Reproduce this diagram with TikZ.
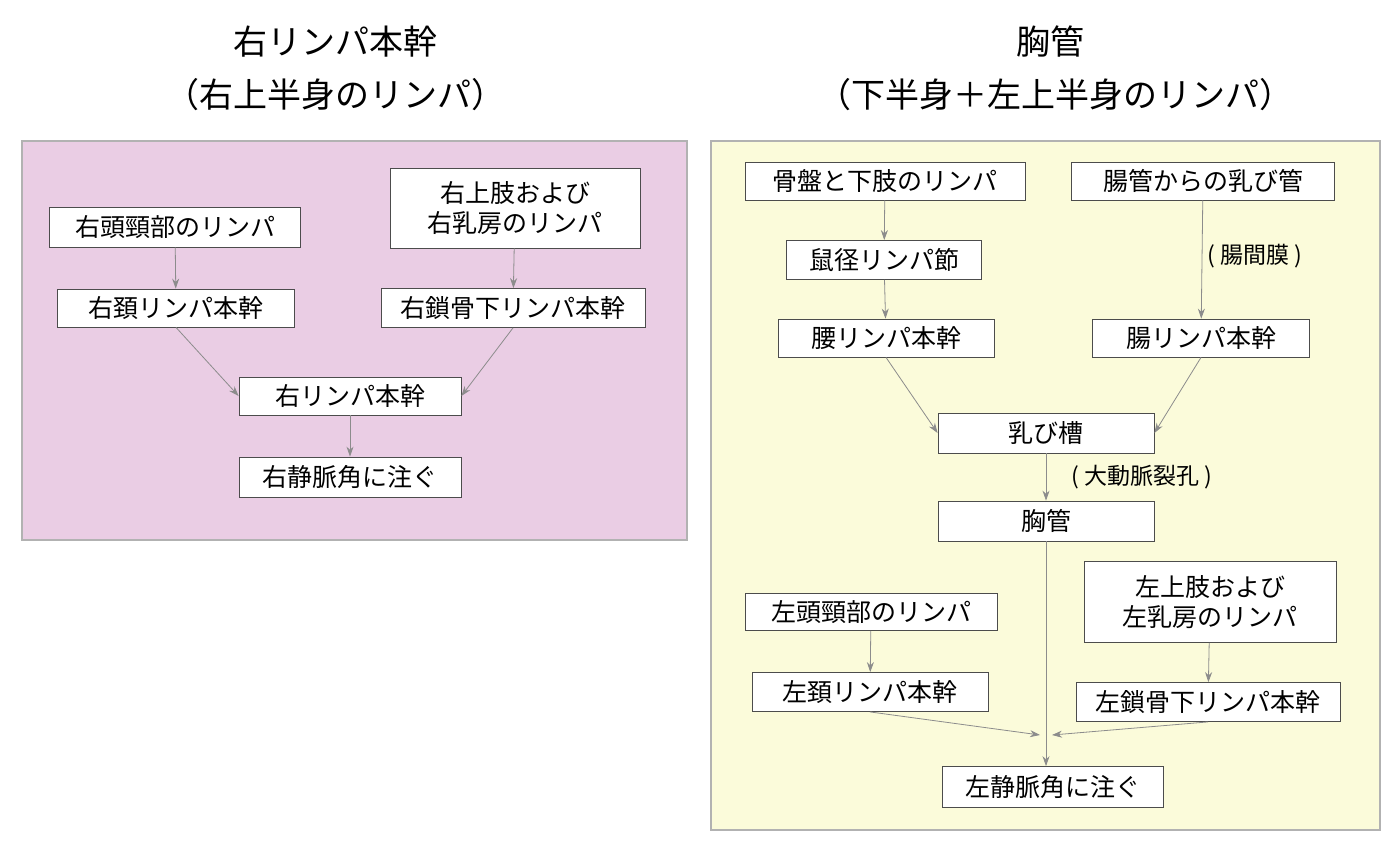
\documentclass[tikz,border=0pt]{standalone}
\usepackage{fontspec}
\setmainfont{Noto Sans CJK JP}
\usetikzlibrary{arrows.meta,positioning}

\begin{document}
\begin{tikzpicture}[x=0.5pt,y=-0.5pt,
    panel/.style={draw=black!30, line width=0.6pt},
    box/.style={draw=black!70, fill=white, line width=0.4pt, inner sep=0pt, font=\fontsize{12.5}{15}\selectfont, align=center},
    title/.style={font=\fontsize{17}{20}\selectfont},
    lab/.style={font=\fontsize{11.5}{14}\selectfont},
    arrow/.style={-{Stealth[length=5pt,width=3.5pt]}, draw=black!45, line width=0.4pt},
    line/.style={draw=black!45, line width=0.4pt}
]
\useasboundingbox (0,0) rectangle (1400,847);

% Panels
\fill[white] (0,0) rectangle (1400,847);
\draw[panel, fill={rgb,255:red,234;green,205;blue,228}] (22,141) rectangle (687,540);
\draw[panel, fill={rgb,255:red,251;green,251;blue,218}] (711,141) rectangle (1380,830);

% Titles
\node[title] (ttlR) at (335,42) {右リンパ本幹};
\node[title] (subR) at (335,95) {（右上半身のリンパ）};
\node[title] (ttlL) at (1050,42) {胸管};
\node[title] (subL) at (1055,95) {（下半身＋左上半身のリンパ）};

% Right lymphatic duct
\node[box, minimum width=125.5pt, minimum height=20pt] (rhead) at (175,227) {右頭頸部のリンパ};
\node[box, minimum width=125pt, minimum height=40pt] (rarm) at (515,208) {右上肢および\\右乳房のリンパ};
\node[box, minimum width=118.5pt, minimum height=19pt] (rjug) at (176,308) {右頚リンパ本幹};
\node[box, minimum width=132pt, minimum height=19.5pt] (rsub) at (513,308) {右鎖骨下リンパ本幹};
\node[box, minimum width=111pt, minimum height=19pt] (rduct) at (350,396) {右リンパ本幹};
\node[box, minimum width=111pt, minimum height=20pt] (rvein) at (350,477) {右静脈角に注ぐ};

\draw[arrow] (rhead) -- (rjug);
\draw[arrow] (rarm) -- (rsub);
\draw[arrow] (rjug.south) -- (rduct.west);
\draw[arrow] (rsub.south) -- (rduct.east);
\draw[arrow] (rduct) -- (rvein);

% Thoracic duct
\node[box, minimum width=140pt, minimum height=19pt] (pelvis) at (885,181) {骨盤と下肢のリンパ};
\node[box, minimum width=131.5pt, minimum height=19pt] (lacteal) at (1203,181) {腸管からの乳び管};
\node[box, minimum width=97.5pt, minimum height=19.5pt] (inguin) at (884,260) {鼠径リンパ節};
\node[lab] (mesen) at (1255,256) {( 腸間膜 )};
\node[box, minimum width=108pt, minimum height=19pt] (lumbar) at (886,338) {腰リンパ本幹};
\node[box, minimum width=108.5pt, minimum height=19pt] (intest) at (1201,338) {腸リンパ本幹};
\node[box, minimum width=108pt, minimum height=20pt] (cist) at (1046,433) {乳び槽};
\node[lab] (aorta) at (1142,477) {( 大動脈裂孔 )};
\node[box, minimum width=108pt, minimum height=20pt] (thor) at (1046,521) {胸管};
\node[box, minimum width=126pt, minimum height=18.5pt] (lhead) at (871,612) {左頭頸部のリンパ};
\node[box, minimum width=126pt, minimum height=40.5pt] (larm) at (1210,602) {左上肢および\\左乳房のリンパ};
\node[box, minimum width=118pt, minimum height=19.5pt] (ljug) at (870,692) {左頚リンパ本幹};
\node[box, minimum width=132pt, minimum height=19.5pt] (lsub) at (1208,702) {左鎖骨下リンパ本幹};
\node[box, minimum width=110.5pt, minimum height=20.5pt] (lvein) at (1053,787) {左静脈角に注ぐ};
\coordinate (merge) at (1046,735);

\draw[arrow] (pelvis) -- (inguin);
\draw[arrow] (inguin) -- (lumbar);
\draw[arrow] (lacteal) -- (intest);
\draw[arrow] (lumbar.south) -- (cist.west);
\draw[arrow] (intest.south) -- (cist.east);
\draw[arrow] (cist) -- (thor);
\draw[arrow] (lhead) -- (ljug);
\draw[arrow] (larm) -- (lsub);
\draw[arrow] (ljug.south) -- ([xshift=-3pt]merge);
\draw[arrow] (lsub.south) -- ([xshift=3pt]merge);
\draw[arrow] (thor.south) -- (thor.south |- lvein.north);

\end{tikzpicture}
\end{document}
